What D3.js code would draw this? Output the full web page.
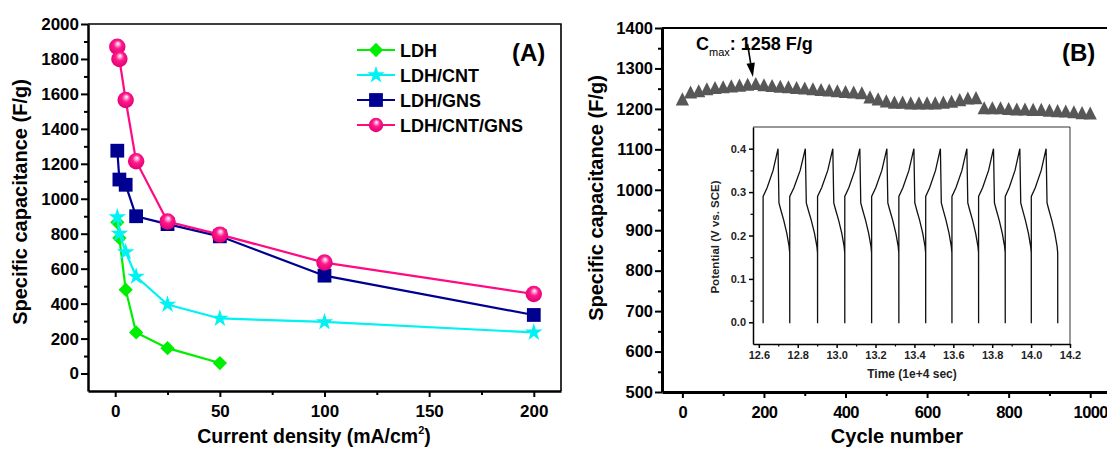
<!DOCTYPE html>
<html>
<head>
	<meta charset="UTF-8">
	<title>capacitance</title>
	<script src="https://cdn.jsdelivr.net/npm/d3@7"></script>
	<style>
		body { margin: 0; background: #fff; }
	</style>
</head>
<body>
<script type="text/javascript">
// ---------- panel A : rate capability
var densities = [1, 2, 5, 10, 25, 50, 100, 200];
var ldh       = [865, 775, 480, 235, 145, 60];
var ldhCnt    = [895, 800, 695, 555, 395, 315, 295, 235];
var ldhGns    = [1275, 1110, 1080, 900, 855, 785, 560, 335];
var ldhCntGns = [1870, 1800, 1565, 1215, 870, 795, 635, 455];
var seriesNames  = ["LDH", "LDH/CNT", "LDH/GNS", "LDH/CNT/GNS"];
var seriesColors = ["#00ee00", "#00f2f2", "#000090", "#ff0a84"];
var xTicksA = [0, 50, 100, 150, 200];
var xMinorA = [25, 75, 125, 175];
var yTicksA = [0, 200, 400, 600, 800, 1000, 1200, 1400, 1600, 1800, 2000];
var yMinorA = [100, 300, 500, 700, 900, 1100, 1300, 1500, 1700, 1900];

// ---------- panel B : cycling
var cycles = [0, 20, 40, 60, 80, 100, 120, 140, 160, 180, 200, 220, 240, 260, 280, 300, 320, 340,
	360, 380, 400, 420, 440, 460, 480, 500, 520, 540, 560, 580, 600, 620, 640, 660, 680, 700,
	720, 740, 760, 780, 800, 820, 840, 860, 880, 900, 920, 940, 960, 980, 1000];
var capacity = [1220, 1237, 1240, 1245, 1248, 1250, 1252, 1254, 1256, 1258, 1255, 1253, 1251,
	1250, 1248, 1247, 1245, 1243, 1242, 1240, 1238, 1237, 1235, 1225, 1220, 1215, 1212, 1212,
	1210, 1210, 1210, 1210, 1212, 1214, 1218, 1222, 1223, 1198, 1198, 1198, 1196, 1195, 1195,
	1194, 1194, 1192, 1191, 1190, 1188, 1186, 1185];
var xTicksB = [0, 200, 400, 600, 800, 1000];
var xMinorB = [100, 300, 500, 700, 900];
var yTicksB = [500, 600, 700, 800, 900, 1000, 1100, 1200, 1300, 1400];
var yMinorB = [550, 650, 750, 850, 950, 1050, 1150, 1250, 1350];

// ---------- inset : charge / discharge
var cycleStarts = [12.622, 12.759, 12.902, 13.042, 13.180, 13.320, 13.458, 13.593, 13.730, 13.867, 14.001];
var cycleEnds   = [12.759, 12.902, 13.042, 13.180, 13.320, 13.458, 13.593, 13.730, 13.867, 14.001, 14.137];
var shapeFrac = [0, 0.15, 0.375, 0.56, 0.595, 0.66, 0.775, 0.89, 0.975, 0.998];
var shapeV    = [0.29, 0.31, 0.35, 0.40, 0.275, 0.26, 0.235, 0.205, 0.175, 0.16];
var xTicksIn = [12.6, 12.8, 13.0, 13.2, 13.4, 13.6, 13.8, 14.0, 14.2];
var xMinorIn = [12.7, 12.9, 13.1, 13.3, 13.5, 13.7, 13.9, 14.1];
var yTicksIn = [0, 0.1, 0.2, 0.3, 0.4];
var yMinorIn = [0.05, 0.15, 0.25, 0.35];

var FONT = "'Liberation Sans', Arial, sans-serif";
var intFmt = d3.format("d");

var svg = d3.select("body").append("svg")
	.attr("width", 1107)
	.attr("height", 451)
	.style("font-family", FONT);

var defs = svg.append("defs");
var grad = defs.append("radialGradient").attr("id", "ball")
	.attr("cx", "50%").attr("cy", "45%").attr("r", "55%")
	.attr("fx", "55%").attr("fy", "30%");
grad.append("stop").attr("offset", "0%").attr("stop-color", "#ffffff");
grad.append("stop").attr("offset", "18%").attr("stop-color", "#ffa6d2");
grad.append("stop").attr("offset", "45%").attr("stop-color", "#ff1a8e");
grad.append("stop").attr("offset", "100%").attr("stop-color", "#e00070");

// axis helper
function styleAxis(g, size, lw) {
	g.attr("font-family", FONT).attr("font-size", size).attr("font-weight", "bold");
	g.selectAll("path.domain").attr("stroke", "#000").attr("stroke-width", lw);
	g.selectAll(".tick line").attr("stroke", "#000").attr("stroke-width", Math.min(lw, 2));
	g.selectAll(".tick text").attr("fill", "#000");
}
function minor(g) {
	g.select("path.domain").remove();
}

// ================= PANEL A =================
var xA = d3.scaleLinear().domain([-13, 213]).range([88, 561]);
var yA = d3.scaleLinear().domain([-100, 2000]).range([391, 24]);

svg.append("path").attr("d", "M88,24H561V391").attr("fill", "none")
	.attr("stroke", "#000").attr("stroke-width", 1.6);

var axAx = svg.append("g").attr("transform", "translate(0,391)")
	.call(d3.axisBottom(xA).tickValues(xTicksA).tickSize(6).tickPadding(8).tickSizeOuter(0)
		.tickFormat(intFmt));
styleAxis(axAx, 17, 2.5);
svg.append("g").attr("transform", "translate(0,391)")
	.call(d3.axisBottom(xA).tickValues(xMinorA).tickSize(4).tickFormat(""))
	.call(minor).call(function (g) { styleAxis(g, 17, 2); });

var ayAx = svg.append("g").attr("transform", "translate(88,0)")
	.call(d3.axisLeft(yA).tickValues(yTicksA).tickSize(7).tickPadding(2).tickSizeOuter(0)
		.tickFormat(intFmt));
styleAxis(ayAx, 17, 2.5);
svg.append("g").attr("transform", "translate(88,0)")
	.call(d3.axisLeft(yA).tickValues(yMinorA).tickSize(4).tickFormat(""))
	.call(minor).call(function (g) { styleAxis(g, 17, 2); });

svg.append("text").attr("transform", "translate(27,202) rotate(-90)")
	.attr("text-anchor", "middle").attr("font-size", 20).attr("font-weight", "bold")
	.text("Specific capacitance (F/g)");

var xtA = svg.append("text").attr("x", 314).attr("y", 443)
	.attr("text-anchor", "middle").attr("font-size", 19.5).attr("font-weight", "bold");
xtA.append("tspan").text("Current density (mA/cm");
xtA.append("tspan").attr("font-size", 11).attr("dy", -9).text("2");
xtA.append("tspan").attr("dy", 9).text(")");

svg.append("text").attr("x", 512).attr("y", 61).attr("font-size", 24)
	.attr("font-weight", "bold").text("(A)");

var allSeries = [ldh, ldhCnt, ldhGns, ldhCntGns];
var markers = [
	d3.symbol().type(d3.symbolDiamond2).size(130),
	d3.symbol().type(d3.symbolStar).size(95),
	d3.symbol().type(d3.symbolSquare).size(190),
	null
];
var lineA = d3.line().x(function (d) { return xA(d[0]); }).y(function (d) { return yA(d[1]); });

function drawMarker(g, i, x, y, r) {
	if (i === 3) {
		g.append("circle").attr("cx", x).attr("cy", y).attr("r", r)
			.attr("fill", "url(#ball)");
	} else {
		g.append("path").attr("d", markers[i]())
			.attr("transform", "translate(" + x + "," + y + ")")
			.attr("fill", seriesColors[i]);
	}
}

allSeries.forEach(function (vals, i) {
	var pts = vals.map(function (v, j) { return [densities[j], v]; });
	var g = svg.append("g");
	g.append("path").attr("d", lineA(pts)).attr("fill", "none")
		.attr("stroke", seriesColors[i]).attr("stroke-width", 2.2);
	pts.forEach(function (p) { drawMarker(g, i, xA(p[0]), yA(p[1]), 8.2); });
});

// legend
seriesNames.forEach(function (name, i) {
	var y = 50 + i * 25;
	var g = svg.append("g");
	g.append("line").attr("x1", 357).attr("x2", 395).attr("y1", y).attr("y2", y)
		.attr("stroke", seriesColors[i]).attr("stroke-width", 2.2);
	drawMarker(g, i, 376, y, 7.2);
	g.append("text").attr("x", 400).attr("y", y + 6.5).attr("font-size", 18)
		.attr("font-weight", "bold").text(name);
});

// ================= PANEL B =================
var xB = d3.scaleLinear().domain([-50, 1100]).range([662, 1131]);
var yB = d3.scaleLinear().domain([500, 1400]).range([392, 28]);

svg.append("path").attr("d", "M662,28H1131").attr("fill", "none")
	.attr("stroke", "#000").attr("stroke-width", 2);

var bxAx = svg.append("g").attr("transform", "translate(0,392)")
	.call(d3.axisBottom(xB).tickValues(xTicksB).tickSize(6).tickPadding(8).tickSizeOuter(0)
		.tickFormat(intFmt));
styleAxis(bxAx, 16.5, 3);
bxAx.selectAll(".tick text").attr("letter-spacing", -0.6);
svg.append("g").attr("transform", "translate(0,392)")
	.call(d3.axisBottom(xB).tickValues(xMinorB).tickSize(4).tickFormat(""))
	.call(minor).call(function (g) { styleAxis(g, 16, 2); });

var byAx = svg.append("g").attr("transform", "translate(662,0)")
	.call(d3.axisLeft(yB).tickValues(yTicksB).tickSize(7).tickPadding(2).tickSizeOuter(0)
		.tickFormat(intFmt));
styleAxis(byAx, 16.5, 3);
svg.append("g").attr("transform", "translate(662,0)")
	.call(d3.axisLeft(yB).tickValues(yMinorB).tickSize(4).tickFormat(""))
	.call(minor).call(function (g) { styleAxis(g, 16, 2); });

svg.append("text").attr("transform", "translate(603,198) rotate(-90)")
	.attr("text-anchor", "middle").attr("font-size", 20).attr("font-weight", "bold")
	.text("Specific capacitance (F/g)");
svg.append("text").attr("x", 897).attr("y", 443).attr("text-anchor", "middle")
	.attr("font-size", 20).attr("font-weight", "bold").text("Cycle number");

svg.append("text").attr("x", 1062).attr("y", 61).attr("font-size", 24)
	.attr("font-weight", "bold").text("(B)");

// triangles
var tri = {
	draw: function (ctx) {
		ctx.moveTo(0, -8.5); ctx.lineTo(6.6, 4.6); ctx.lineTo(-6.6, 4.6); ctx.closePath();
	}
};
svg.append("g").selectAll("path").data(cycles).join("path")
	.attr("d", d3.symbol().type(tri)())
	.attr("transform", function (d, i) { return "translate(" + xB(d) + "," + yB(capacity[i]) + ")"; })
	.attr("fill", "#575757");

// Cmax annotation
var cm = svg.append("text").attr("x", 696).attr("y", 50).attr("font-size", 18)
	.attr("font-weight", "bold");
cm.append("tspan").text("C");
cm.append("tspan").attr("font-size", 11).attr("font-weight", "normal").attr("dy", 6).text("max");
cm.append("tspan").attr("dy", -6).text(": 1258 F/g");

var tipX = xB(173), tipY = yB(1258) - 8.5;
var sx = 747.5, sy = 44;
var ang = Math.atan2(tipY - sy, tipX - sx);
var hl = 14, hw = 4.2;
var bx = tipX - hl * Math.cos(ang), by = tipY - hl * Math.sin(ang);
svg.append("line").attr("x1", sx).attr("y1", sy).attr("x2", bx).attr("y2", by)
	.attr("stroke", "#000").attr("stroke-width", 1.6);
svg.append("path").attr("d",
	"M" + tipX + "," + tipY +
	"L" + (bx + hw * Math.sin(ang)) + "," + (by - hw * Math.cos(ang)) +
	"L" + (bx - hw * Math.sin(ang)) + "," + (by + hw * Math.cos(ang)) + "Z")
	.attr("fill", "#000");

// ================= INSET =================
var xI = d3.scaleLinear().domain([12.57, 14.2]).range([753, 1070]);
var yI = d3.scaleLinear().domain([-0.05, 0.45]).range([344, 127]);

svg.append("path").attr("d", "M753,127H1070V344").attr("fill", "none")
	.attr("stroke", "#333").attr("stroke-width", 1);

var ixAx = svg.append("g").attr("transform", "translate(0,344)")
	.call(d3.axisBottom(xI).tickValues(xTicksIn).tickSize(4).tickPadding(3).tickSizeOuter(0)
		.tickFormat(d3.format(".1f")));
styleAxis(ixAx, 11, 1.5);
svg.append("g").attr("transform", "translate(0,344)")
	.call(d3.axisBottom(xI).tickValues(xMinorIn).tickSize(2.5).tickFormat(""))
	.call(minor).call(function (g) { styleAxis(g, 11, 1.2); });

var iyAx = svg.append("g").attr("transform", "translate(753,0)")
	.call(d3.axisLeft(yI).tickValues(yTicksIn).tickSize(4).tickPadding(3).tickSizeOuter(0)
		.tickFormat(d3.format(".1f")));
styleAxis(iyAx, 11, 1.5);
svg.append("g").attr("transform", "translate(753,0)")
	.call(d3.axisLeft(yI).tickValues(yMinorIn).tickSize(2.5).tickFormat(""))
	.call(minor).call(function (g) { styleAxis(g, 11, 1.2); });
[ixAx, iyAx].forEach(function (g) { g.selectAll(".tick text").attr("fill", "#222"); });

svg.append("text").attr("transform", "translate(719,237) rotate(-90)")
	.attr("text-anchor", "middle").attr("font-size", 11.5).attr("font-weight", "bold")
	.attr("fill", "#222").text("Potential (V vs. SCE)");
svg.append("text").attr("x", 912).attr("y", 378).attr("text-anchor", "middle")
	.attr("font-size", 12).attr("font-weight", "bold").attr("fill", "#222")
	.text("Time (1e+4 sec)");

var gcd = [];
cycleStarts.forEach(function (s, i) {
	var e = cycleEnds[i];
	gcd.push([s, -0.002]);
	shapeFrac.forEach(function (f, j) { gcd.push([s + f * (e - s), shapeV[j]]); });
	gcd.push([e, -0.002]);
});
svg.append("path")
	.attr("d", d3.line().x(function (d) { return xI(d[0]); }).y(function (d) { return yI(d[1]); })(gcd))
	.attr("fill", "none").attr("stroke", "#111").attr("stroke-width", 1.3);
</script>
</body>
</html>
